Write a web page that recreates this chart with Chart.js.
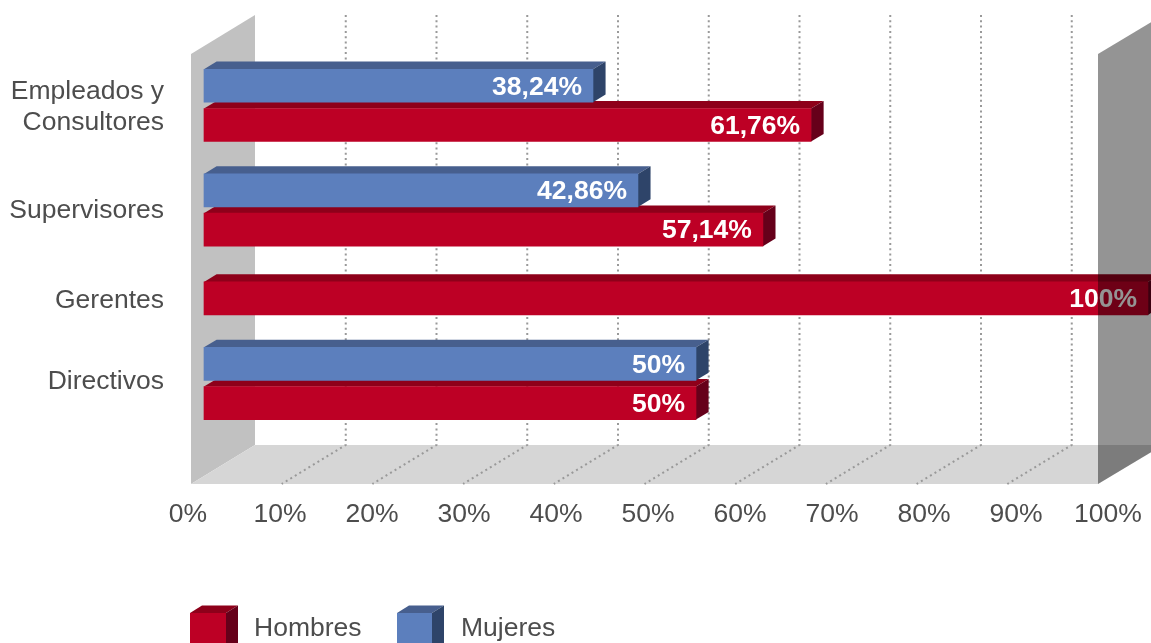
<!DOCTYPE html>
<html>
<head>
<meta charset="utf-8">
<script src="https://cdn.jsdelivr.net/npm/chart.js@4"></script>
<style>
  html, body { margin: 0; padding: 0; background: #fff; overflow: hidden; }
  canvas { display: block; }
</style>
</head>
<body>
<canvas id="myChart" width="1151" height="643"></canvas>
<script>
var categorias = [["Empleados y", "Consultores"], ["Supervisores"], ["Gerentes"], ["Directivos"]];
var xTicks = [0, 10, 20, 30, 40, 50, 60, 70, 80, 90, 100];

// printed values, as the labels show them
var textoMujeres = ["38,24%", "42,86%", null, "50%"];
var textoHombres = ["61,76%", "57,14%", "100%", "50%"];
// bar lengths as drawn in the picture (they do not follow the printed values exactly)
var largoMujeres = [39.53, 44.1, null, 50];
var largoHombres = [61.69, 56.8, 95.93, 50];

var colorTexto = "#4d4d4d";
var fuente = "Liberation Sans";
var azul = { front: "#5c7fbd", top: "#475f8e", side: "#2e4469" };
var rojo = { front: "#bd0025", top: "#8e001a", side: "#66001a" };
var depthX = 12.6, depthY = 7.6;

// the y axis is a fine grid of rows: each bar takes one, empty rows make the gaps
var huecoInicio = 22, huecoGrupo = 11;
var huecoTras = [19, 20, 19, 26];
var rowLabels = [], rowsMujeres = [], rowsHombres = [], filaTexto = {}, filaCat = [];
function addEmpty(n) {
    for (var i = 0; i < n; i++) {
        rowLabels.push("");
        rowsMujeres.push(null);
        rowsHombres.push(null);
    }
}
addEmpty(huecoInicio);
categorias.forEach(function (cat, c) {
    var filas = [];
    if (largoMujeres[c] !== null) {
        rowLabels.push(cat.join(" "));
        rowsMujeres.push(largoMujeres[c]);
        rowsHombres.push(null);
        filaTexto["0-" + (rowLabels.length - 1)] = textoMujeres[c];
        filas.push(rowLabels.length - 1);
        addEmpty(huecoGrupo);
    }
    rowLabels.push(cat.join(" "));
    rowsMujeres.push(null);
    rowsHombres.push(largoHombres[c]);
    filaTexto["1-" + (rowLabels.length - 1)] = textoHombres[c];
    filas.push(rowLabels.length - 1);
    filaCat.push(filas);
    addEmpty(huecoTras[c]);
});

function poly(ctx, pts, color) {
    ctx.fillStyle = color;
    ctx.beginPath();
    ctx.moveTo(pts[0][0], pts[0][1]);
    for (var i = 1; i < pts.length; i++) ctx.lineTo(pts[i][0], pts[i][1]);
    ctx.closePath();
    ctx.fill();
}

// box shaped swatch for the legend
function swatch(ctx, x, y, w, h, c) {
    poly(ctx, [[x, y], [x + 12, y - 7.6], [x + w + 12, y - 7.6], [x + w, y]], c.top);
    poly(ctx, [[x + w, y], [x + w + 12, y - 7.6], [x + w + 12, y + h], [x + w, y + h]], c.side);
    poly(ctx, [[x, y], [x + w, y], [x + w, y + h], [x, y + h]], c.front);
}

var room3d = {
    id: "room3d",
    beforeDatasetsDraw: function (chart) {
        var ctx = chart.ctx;
        ctx.save();
        // left wall and floor
        poly(ctx, [[191, 54], [255, 15], [255, 445], [191, 484]], "#c1c1c1");
        poly(ctx, [[191, 484], [255, 445], [1163, 445], [1098, 484]], "#d6d6d6");

        // dotted grid, back wall and floor
        ctx.strokeStyle = "#999999";
        ctx.lineWidth = 2;
        ctx.setLineDash([2, 3.3]);
        chart.scales.x.ticks.forEach(function (t) {
            if (t.value === 0 || t.value === 100) return;
            var back = 255 + t.value * 9.075, front = 191 + t.value * 9.07;
            ctx.beginPath();
            ctx.moveTo(back, 15);
            ctx.lineTo(back, 445);
            ctx.lineTo(front, 484);
            ctx.stroke();
        });
        ctx.setLineDash([]);

        // bar depth: top and end faces, red first so the blue front lands on it
        [1, 0].forEach(function (d) {
            var c = d === 0 ? azul : rojo;
            chart.getDatasetMeta(d).data.forEach(function (el, i) {
                if (chart.data.datasets[d].data[i] === null) return;
                var t = el.y - el.height / 2, b = el.y + el.height / 2;
                poly(ctx, [[el.base, t], [el.base + depthX, t - depthY], [el.x + depthX, t - depthY], [el.x, t]], c.top);
                poly(ctx, [[el.x, t], [el.x + depthX, t - depthY], [el.x + depthX, b - depthY], [el.x, b]], c.side);
            });
        });
        ctx.restore();
    },
    afterDatasetsDraw: function (chart) {
        var ctx = chart.ctx;
        ctx.save();

        // values inside the bars
        ctx.font = "bold 26.5px '" + fuente + "'";
        ctx.fillStyle = "#fff";
        ctx.textAlign = "right";
        ctx.textBaseline = "middle";
        [0, 1].forEach(function (d) {
            chart.getDatasetMeta(d).data.forEach(function (el, i) {
                var txt = filaTexto[d + "-" + i];
                if (txt) ctx.fillText(txt, el.x - 11, el.y + 1.5);
            });
        });

        // category labels, centred on their group of bars
        var ajuste = [1, 0, 2, -2];
        ctx.font = "26.5px '" + fuente + "'";
        ctx.fillStyle = colorTexto;
        categorias.forEach(function (cat, c) {
            var f = filaCat[c];
            var mid = (chart.scales.y.getPixelForValue(f[0]) + chart.scales.y.getPixelForValue(f[f.length - 1])) / 2 + ajuste[c];
            cat.forEach(function (linea, n) {
                ctx.fillText(linea, 164, mid + (n - (cat.length - 1) / 2) * 31 + 0.5);
            });
        });

        // legend
        ctx.textAlign = "left";
        swatch(ctx, 190, 613, 36, 32, rojo);
        ctx.fillStyle = colorTexto;
        ctx.fillText(chart.data.datasets[1].label, 254, 628.5);
        swatch(ctx, 397, 613, 35, 32, azul);
        ctx.fillStyle = colorTexto;
        ctx.fillText(chart.data.datasets[0].label, 461, 628.5);

        // right wall sits over bars, label and floor
        ctx.globalCompositeOperation = "multiply";
        poly(ctx, [[1098, 54], [1163, 15], [1163, 445], [1098, 484]], "#949494");
        ctx.restore();
    }
};

new Chart("myChart", {
    type: "bar",
    plugins: [room3d],
    data: {
        labels: rowLabels,
        datasets: [{
            label: "Mujeres",
            data: rowsMujeres,
            backgroundColor: azul.front,
            xAxisID: "barras",
            grouped: false,
            barThickness: 33,
            clip: false,
            order: 1
        }, {
            label: "Hombres",
            data: rowsHombres,
            backgroundColor: rojo.front,
            xAxisID: "barras",
            grouped: false,
            barThickness: 33,
            clip: false,
            order: 2
        }]
    },
    options: {
        indexAxis: "y",
        responsive: false,
        animation: false,
        layout: { padding: { left: 188, right: 43, top: 12.1, bottom: 103.4 } },
        plugins: {
            legend: { display: false },
            tooltip: { enabled: false }
        },
        scales: {
            y: { display: false },
            x: {
                min: xTicks[0],
                max: xTicks[xTicks.length - 1],
                position: "bottom",
                border: { display: false },
                grid: { display: false, drawTicks: false },
                ticks: {
                    stepSize: 10,
                    autoSkip: false,
                    maxRotation: 0,
                    padding: 9,
                    color: colorTexto,
                    font: { family: fuente, size: 26.5 },
                    callback: function (value) {
                        return value + "%";
                    }
                }
            },
            // bars start off the wall at 204px: 0 here is not 0 on the printed axis
            barras: {
                axis: "x",
                display: false,
                min: -1.626,
                max: 91.87
            }
        }
    }
});
</script>
</body>
</html>
